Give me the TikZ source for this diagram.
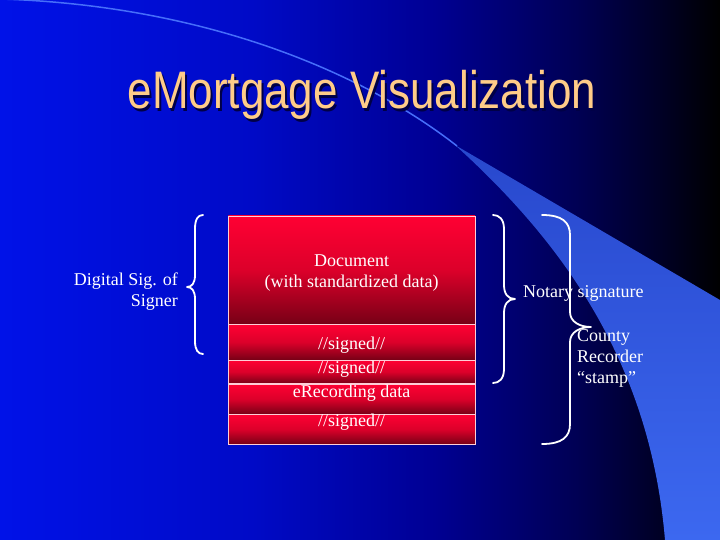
\documentclass[tikz,border=0pt]{standalone}
\usepackage{fontspec}
\setmainfont{Liberation Serif}
\newfontfamily\titlefont{Liberation Sans}
\definecolor{titlecol}{RGB}{255,204,136}
\definecolor{shadowcol}{RGB}{0,0,70}
\definecolor{bandcol}{RGB}{60,104,240}
\definecolor{bandtop}{RGB}{40,72,205}
\definecolor{swooshline}{RGB}{70,110,250}
\definecolor{redtop}{RGB}{255,0,51}
\definecolor{redmid}{RGB}{220,0,42}
\definecolor{redbot}{RGB}{118,0,22}
\definecolor{rowline}{RGB}{255,205,215}
\pgfdeclarehorizontalshading{bgshade}{100bp}{rgb(0bp)=(0,0.07,0.91); rgb(25bp)=(0,0.07,0.91); rgb(42.5bp)=(0,0.04,0.78); rgb(55bp)=(0,0,0.58); rgb(65bp)=(0,0,0.33); rgb(71bp)=(0,0,0.14); rgb(75bp)=(0,0,0); rgb(100bp)=(0,0,0)}
\begin{document}
\begin{tikzpicture}[x=1pt,y=-1pt,
  rowbox/.style={draw=rowline, line width=0.8pt, top color=redtop, bottom color=redbot, middle color=redmid, minimum width=246.7pt, inner sep=0pt, outer sep=0pt, anchor=north west},
  body/.style={text=white, font=\fontsize{18}{21}\selectfont, inner sep=0pt, anchor=base},
  titlestyle/.style={font=\titlefont\fontsize{44}{50}\selectfont, inner sep=0pt, anchor=base},
  bracestyle/.style={draw=white, line width=1.8pt, line cap=round, line join=round}]
\useasboundingbox (0,0) rectangle (720,540);
% background
\shade[shading=bgshade] (0,0) rectangle (720,540);
% swoosh
\shade[top color=bandtop, bottom color=bandcol] (455,145) -- (720,300) -- (720,540) -- (665,540) .. controls (650,360) and (560,240) .. (455,145) -- cycle;
\draw[swooshline, line width=1.5pt] (0,-1) .. controls (200,5) and (360,70) .. (457,146);
% title
\node[titlestyle, text=shadowcol] (titleshadow) at (364,111.5) {\scalebox{1}[1.2]{eMortgage Visualization}};
\node[titlestyle, text=titlecol] (title) at (362,109) {\scalebox{1}[1.2]{eMortgage Visualization}};
% stacked rows
\node[rowbox, minimum height=108.3pt] (docrow) at (228.3,216) {};
\node[rowbox, minimum height=35.7pt] (sig1row) at (228.3,324.3) {};
\node[rowbox, minimum height=23.7pt] (sig2row) at (228.3,360) {};
\node[rowbox, minimum height=30.3pt] (errow) at (228.3,384) {};
\node[rowbox, minimum height=30pt] (sig3row) at (228.3,414.3) {};
% texts
\node[body] (doc1) at (351.6,266) {Document};
\node[body] (doc2) at (351.6,287) {(with standardized data)};
\node[body] (s1) at (351.6,349.5) {//signed//};
\node[body] (s2) at (351.6,373) {//signed//};
\node[body] (er) at (351.6,397.5) {eRecording data};
\node[body] (s3) at (351.6,426.5) {//signed//};
\node[body, anchor=base east] (dig1) at (178,285.5) {Digital Sig. of};
\node[body, anchor=base east] (dig2) at (178,306.5) {Signer};
\node[body, anchor=base west] (notary) at (523,297) {Notary signature};
\node[body, anchor=base west] (county1) at (577,341.5) {County};
\node[body, anchor=base west] (county2) at (577,362.3) {Recorder};
\node[body, anchor=base west] (county3) at (577,383.3) {“stamp”};
% braces
\draw[bracestyle] (203,215) .. controls (198,215) and (195,219) .. (195,229) -- (195,275) .. controls (195,283) and (192,287) .. (187,287) .. controls (192,287) and (195,291) .. (195,299) -- (195,341) .. controls (195,350) and (198,354) .. (203,354);
\draw[bracestyle] (493,215) .. controls (499,215) and (504,219) .. (504,229) -- (504,285) .. controls (504,294) and (508,299) .. (515,299) .. controls (508,299) and (504,304) .. (504,313) -- (504,369) .. controls (504,379) and (499,383) .. (493,383);
\draw[bracestyle] (542,215) .. controls (562,215) and (570,222) .. (570,235) -- (570,312) .. controls (570,322) and (580,327) .. (591,327) .. controls (580,327) and (570,332) .. (570,342) -- (570,424) .. controls (570,437) and (562,444) .. (542,444);
\end{tikzpicture}
\end{document}
